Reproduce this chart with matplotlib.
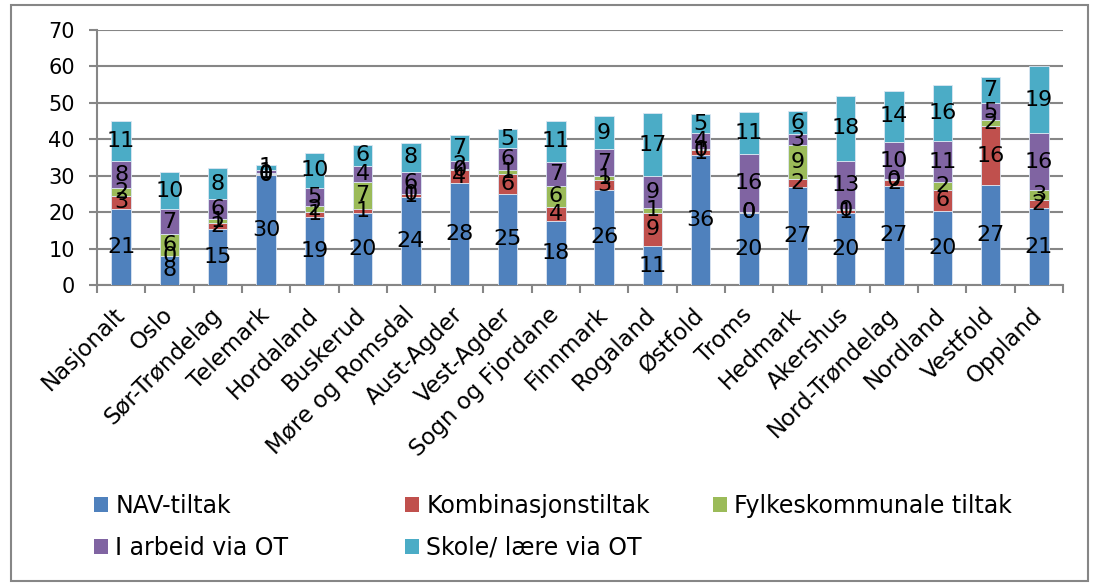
import numpy as np
import matplotlib
matplotlib.use('Agg')
import matplotlib.pyplot as plt
from matplotlib.patches import Patch, Rectangle

# Data (per region, five measure types)
regions = ['Nasjonalt', 'Oslo', 'Sør-Trøndelag', 'Telemark', 'Hordaland', 'Buskerud',
           'Møre og Romsdal', 'Aust-Agder', 'Vest-Agder', 'Sogn og Fjordane', 'Finnmark',
           'Rogaland', 'Østfold', 'Troms', 'Hedmark', 'Akershus', 'Nord-Trøndelag',
           'Nordland', 'Vestfold', 'Oppland']
nav = [21.0, 8.0, 15.3, 30.2, 18.7, 19.7, 24.2, 27.9, 25.0, 17.7,
       26.1, 10.6, 35.7, 19.9, 26.8, 19.7, 27.2, 20.4, 27.4, 21.1]
komb = [3.4, 0.0, 1.6, 0.2, 1.4, 1.3, 0.7, 3.6, 5.6, 3.8,
        2.6, 9.3, 1.3, 0.2, 2.4, 0.8, 1.6, 5.6, 16.2, 2.3]
fylk = [2.1, 6.0, 1.2, 0.3, 1.6, 7.4, 0.2, 0.4, 1.1, 5.6,
        1.3, 1.3, 0.2, 0.0, 9.1, 0.4, 0.2, 2.3, 1.7, 2.6]
arbeid = [7.6, 6.8, 5.6, 0.9, 5.0, 4.3, 6.0, 2.1, 5.8, 6.8,
          7.2, 8.7, 4.4, 15.9, 3.1, 13.2, 10.3, 11.1, 4.6, 15.6]
skole = [10.9, 10.1, 8.3, 1.4, 9.6, 5.7, 8.0, 7.2, 5.4, 11.2,
         9.1, 17.2, 5.4, 11.4, 6.4, 17.9, 14.0, 15.6, 7.3, 18.6]
series_names = ['NAV-tiltak', 'Kombinasjonstiltak', 'Fylkeskommunale tiltak',
                'I arbeid via OT', 'Skole/ lære via OT']
colors = ['#4F81BD', '#C0504D', '#9BBB59', '#8064A2', '#4BACC6']

grid_col = '#868686'

fig = plt.figure(figsize=(10.95, 5.86), dpi=100)
ax = fig.add_axes([97/1095, 1 - 285/586, (1063-97)/1095, (285-30)/586])

x = np.arange(len(regions))
bottom = np.zeros(len(regions))
for vals, name, col in zip([nav, komb, fylk, arbeid, skole], series_names, colors):
    vals = np.array(vals)
    ax.bar(x, vals, 0.4, bottom=bottom, color=col, edgecolor='#dce6f2', linewidth=0.6,
           label=name, zorder=3)
    for xi, b, v in zip(x, bottom, vals):
        ax.text(xi, b + v/2, f'{v:.0f}', ha='center', va='center', fontsize=16,
                color='black', zorder=5)
    bottom += vals

ax.set_ylim(0, 70)
ax.set_xlim(-0.5, len(regions) - 0.5)
ax.set_yticks(range(0, 71, 10))
ax.yaxis.grid(True, color=grid_col, linewidth=1.5, zorder=0)
ax.tick_params(axis='y', labelsize=15, length=6, width=1.5, color=grid_col, pad=10)

ax.set_xticks(x)
ax.set_xticklabels(regions, rotation=45, ha='right', va='center',
                   rotation_mode='anchor', fontsize=16.5)
ax.set_xticks(np.arange(-0.5, len(regions)), minor=True)
ax.tick_params(axis='x', which='major', length=0, pad=19)
ax.tick_params(axis='x', which='minor', length=6, width=1.5, color=grid_col)

for s in ['top', 'right']:
    ax.spines[s].set_visible(False)
for s in ['left', 'bottom']:
    ax.spines[s].set_color(grid_col)
    ax.spines[s].set_linewidth(1.5)

# legend, three columns placed separately
handles = [Patch(facecolor=c, edgecolor='none') for c in colors]
leg_kw = dict(frameon=False, fontsize=17, handlelength=0.6, handleheight=0.6,
              handletextpad=0.3, labelspacing=0.75, borderaxespad=0, borderpad=0)
cols = [([0, 3], 94), ([1, 4], 405), ([2], 713)]
for idx, xpos in cols:
    lg = fig.legend([handles[i] for i in idx], [series_names[i] for i in idx],
                    loc='upper left', bbox_to_anchor=(xpos/1095, 1 - 494/586), **leg_kw)

# outer border
fig.patches.append(Rectangle((11/1095, 5/586), (1088-11)/1095, (581-5)/586,
                             transform=fig.transFigure, fill=False,
                             edgecolor=grid_col, linewidth=1.5))

fig.savefig('out.png', dpi=100)
